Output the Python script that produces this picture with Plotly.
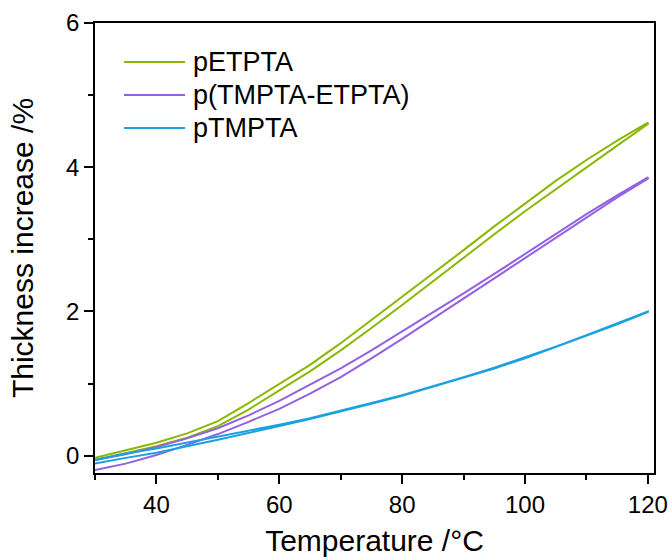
import plotly.graph_objects as go

# Temperature grid (°C)
temperature = [30, 35, 40, 45, 50, 55, 60, 65, 70, 75, 80, 85, 90, 95, 100, 105, 110, 115, 120]

# Thickness increase (%) - upper and lower branches of each loop
petpta_upper = [-0.03, 0.07, 0.18, 0.31, 0.48, 0.73, 1.00, 1.26, 1.56, 1.88, 2.20, 2.52, 2.85, 3.18, 3.50, 3.81, 4.10, 4.37, 4.62]
petpta_lower = [-0.06, 0.03, 0.13, 0.25, 0.41, 0.64, 0.91, 1.17, 1.46, 1.77, 2.09, 2.41, 2.74, 3.07, 3.39, 3.70, 4.00, 4.30, 4.60]

pmix_upper = [-0.06, 0.02, 0.12, 0.24, 0.38, 0.56, 0.76, 0.98, 1.21, 1.46, 1.72, 1.98, 2.25, 2.52, 2.80, 3.08, 3.35, 3.61, 3.86]
pmix_lower = [-0.20, -0.11, 0.01, 0.15, 0.30, 0.47, 0.65, 0.86, 1.09, 1.35, 1.62, 1.89, 2.17, 2.45, 2.73, 3.02, 3.30, 3.58, 3.84]

ptmpta_upper = [-0.06, 0.03, 0.10, 0.18, 0.26, 0.34, 0.43, 0.52, 0.62, 0.73, 0.84, 0.96, 1.09, 1.22, 1.36, 1.51, 1.67, 1.83, 2.00]
ptmpta_lower = [-0.11, -0.03, 0.04, 0.13, 0.22, 0.31, 0.41, 0.51, 0.61, 0.72, 0.83, 0.95, 1.08, 1.21, 1.35, 1.50, 1.66, 1.82, 1.99]

series_names = ["pETPTA", "p(TMPTA-ETPTA)", "pTMPTA"]
series_colors = ["#8AB800", "#9461E3", "#1BA0E0"]
series_upper = [petpta_upper, pmix_upper, ptmpta_upper]
series_lower = [petpta_lower, pmix_lower, ptmpta_lower]

FONT = "Liberation Sans, Arial, sans-serif"

fig = go.Figure()
for name, color, up, lo in zip(series_names, series_colors, series_upper, series_lower):
    xs = temperature + temperature[::-1]
    ys = up + lo[::-1]
    fig.add_trace(go.Scatter(x=xs, y=ys, mode="lines", name=name,
                             line=dict(color=color, width=2),
                             showlegend=False))

# Manual legend (long line samples as in the original)
W, H = 671, 557
L, R, T, B = 95, 17, 23, 84
pw, ph = W - L - R, H - T - B

def px2paper_x(px):
    return (px - L) / pw

def py2paper_y(py):
    return 1 - (py - T) / ph

shapes = []
annotations = []
rows = [62, 95, 128]
for name, color, ry in zip(series_names, series_colors, rows):
    shapes.append(dict(type="line", xref="paper", yref="paper",
                       x0=px2paper_x(124), x1=px2paper_x(185),
                       y0=py2paper_y(ry), y1=py2paper_y(ry),
                       line=dict(color=color, width=2)))
    annotations.append(dict(xref="paper", yref="paper", x=px2paper_x(191), y=py2paper_y(ry),
                            text=name, showarrow=False, xanchor="left", yanchor="middle",
                            font=dict(family=FONT, size=27, color="black")))

axis_common = dict(showline=True, linecolor="black", linewidth=1.5, mirror=True,
                   ticks="outside", ticklen=9, tickwidth=1.5, tickcolor="black",
                   showgrid=False, zeroline=False, automargin=False,
                   tickfont=dict(family=FONT, size=24, color="black"))

fig.update_layout(
    width=W, height=H,
    margin=dict(l=L, r=R, t=T, b=B),
    paper_bgcolor="white", plot_bgcolor="white",
    shapes=shapes, annotations=annotations,
    xaxis=dict(range=[30, 121], tickvals=[40, 60, 80, 100, 120],
               minor=dict(tickvals=[30, 50, 70, 90, 110], ticks="outside", ticklen=5,
                          tickwidth=1.5, tickcolor="black"),
               title=dict(text="Temperature /°C", font=dict(family=FONT, size=30, color="black"),
                          standoff=20),
               **axis_common),
    yaxis=dict(range=[-0.24, 6], tickvals=[0, 2, 4, 6],
               minor=dict(tickvals=[1, 3, 5], ticks="outside", ticklen=5,
                          tickwidth=1.5, tickcolor="black"),
               title=dict(text="Thickness increase /%", font=dict(family=FONT, size=30, color="black"),
                          standoff=24),
               **axis_common),
)

fig.write_html("out.html")
